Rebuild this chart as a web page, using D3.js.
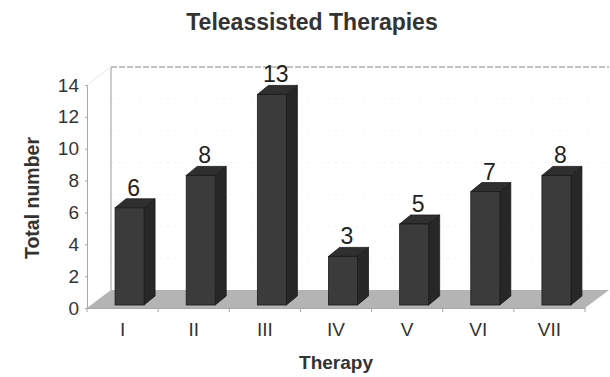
<!DOCTYPE html>
<html>
<head>
<meta charset="utf-8">
<script src="https://cdn.jsdelivr.net/npm/d3@7"></script>
<style>
  html, body { margin: 0; padding: 0; background: #ffffff; }
  svg { display: block; font-family: Arial, "Liberation Sans", sans-serif; }
</style>
</head>
<body>
<svg id="chart" width="610" height="377"></svg>
<script>
// Teleassisted therapies per category
const categories = ["I", "II", "III", "IV", "V", "VI", "VII"];
const totals = [6, 8, 13, 3, 5, 7, 8];
const yTicks = [0, 2, 4, 6, 8, 10, 12, 14];

const svg = d3.select("#chart");

// Front plane of the 3-D plot box
const plotLeft = 87, plotRight = 585, plotBottom = 308, plotTop = 85;
// Oblique depth of the whole box, and of a bar inside it
const depth = { dx: 24, dy: -18 };
const barFront = { dx: 7, dy: -3 };
const barDepth = { dx: 11, dy: -9 };
const barW = 29;

const x = d3.scaleBand().domain(categories).range([plotLeft, plotRight]).padding(0);
const y = d3.scaleLinear().domain([0, 14]).range([plotBottom, plotTop]);
// Bars stand a little behind the front plane, where the view is slightly enlarged
const yBar = d3.scaleLinear().domain([0, 14]).range([plotBottom + barFront.dy, plotBottom + barFront.dy - 14 * 16.2]);

const ink = "#333333";

// Back wall outline and faint gridlines
const wall = svg.append("g");
yTicks.slice(1).forEach(t => {
  wall.append("line")
    .attr("x1", plotLeft + depth.dx).attr("x2", plotRight + depth.dx)
    .attr("y1", y(t) + depth.dy).attr("y2", y(t) + depth.dy)
    .attr("stroke", t === 14 ? "#8a8a8a" : "#f1f1f1")
    .attr("stroke-width", 1)
    .attr("stroke-dasharray", t === 14 ? "6,2" : "2,5");
});
wall.append("line")
  .attr("x1", plotLeft + depth.dx).attr("x2", plotLeft + depth.dx)
  .attr("y1", y(0) + depth.dy).attr("y2", y(14) + depth.dy)
  .attr("stroke", "#9a9a9a").attr("stroke-width", 1);
wall.append("line")
  .attr("x1", plotLeft).attr("x2", plotLeft + depth.dx)
  .attr("y1", y(14)).attr("y2", y(14) + depth.dy)
  .attr("stroke", "#e6e6e6").attr("stroke-width", 1);

// Floor
svg.append("polygon")
  .attr("points", [
    [plotLeft, y(0)], [plotRight, y(0)],
    [plotRight + depth.dx, y(0) + depth.dy], [plotLeft + depth.dx, y(0) + depth.dy]
  ].map(p => p.join(",")).join(" "))
  .attr("fill", "#b4b4b4");

// Value axis
const yAxis = svg.append("g")
  .attr("transform", `translate(${plotLeft},0)`)
  .call(d3.axisLeft(y).tickValues(yTicks).tickSize(2).tickPadding(6).tickFormat(d3.format("d")));
yAxis.select(".domain").attr("stroke", "#a8a8a8");
yAxis.selectAll(".tick line").attr("stroke", "#a8a8a8");
yAxis.selectAll("text").attr("font-size", 19).attr("fill", ink);

// Category axis
const xAxis = svg.append("g")
  .attr("transform", `translate(0,${plotBottom})`)
  .call(d3.axisBottom(x).tickSize(0).tickPadding(15));
xAxis.select(".domain").attr("stroke", "#a8a8a8");
xAxis.selectAll("text").attr("font-size", 19).attr("fill", ink);
// Tick marks at category boundaries
svg.append("g").selectAll("line")
  .data(d3.range(categories.length + 1))
  .join("line")
  .attr("x1", i => plotLeft + i * x.bandwidth()).attr("x2", i => plotLeft + i * x.bandwidth())
  .attr("y1", plotBottom).attr("y2", plotBottom + 4)
  .attr("stroke", "#a8a8a8");

// 3-D bars
const bars = svg.append("g").selectAll("g")
  .data(categories.map((c, i) => ({ c, v: totals[i] })))
  .join("g");

const fx = d => x(d.c) + x.bandwidth() / 2 - barW / 2 + barFront.dx;
const fyTop = d => yBar(d.v);
const fyBot = () => yBar(0);

// side face
bars.append("polygon")
  .attr("points", d => [
    [fx(d) + barW, fyTop(d)], [fx(d) + barW + barDepth.dx, fyTop(d) + barDepth.dy],
    [fx(d) + barW + barDepth.dx, fyBot() + barDepth.dy], [fx(d) + barW, fyBot()]
  ].map(p => p.join(",")).join(" "))
  .attr("fill", "#272727").attr("stroke", "#1a1a1a").attr("stroke-width", 0.8);
// top face
bars.append("polygon")
  .attr("points", d => [
    [fx(d), fyTop(d)], [fx(d) + barDepth.dx, fyTop(d) + barDepth.dy],
    [fx(d) + barW + barDepth.dx, fyTop(d) + barDepth.dy], [fx(d) + barW, fyTop(d)]
  ].map(p => p.join(",")).join(" "))
  .attr("fill", "#2f2f2f").attr("stroke", "#1a1a1a").attr("stroke-width", 0.8);
// front face
bars.append("rect")
  .attr("x", d => fx(d)).attr("y", d => fyTop(d))
  .attr("width", barW).attr("height", d => fyBot() - fyTop(d))
  .attr("fill", "#3b3b3b").attr("stroke", "#1a1a1a").attr("stroke-width", 0.8);

// value labels
bars.append("text")
  .attr("x", d => fx(d) + barW / 2 + 4)
  .attr("y", d => fyTop(d) - 12)
  .attr("text-anchor", "middle")
  .attr("font-size", 23)
  .attr("fill", "#222")
  .text(d => d.v);

// Titles
svg.append("text")
  .attr("x", 312).attr("y", 30)
  .attr("text-anchor", "middle")
  .attr("font-size", 23).attr("font-weight", "bold").attr("fill", ink)
  .text("Teleassisted Therapies");

svg.append("text")
  .attr("x", 336).attr("y", 369)
  .attr("text-anchor", "middle")
  .attr("font-size", 19).attr("font-weight", "bold").attr("fill", ink)
  .text("Therapy");

svg.append("text")
  .attr("transform", "translate(39,198) rotate(-90)")
  .attr("text-anchor", "middle")
  .attr("font-size", 19.5).attr("font-weight", "bold").attr("fill", ink)
  .text("Total number");
</script>
</body>
</html>
